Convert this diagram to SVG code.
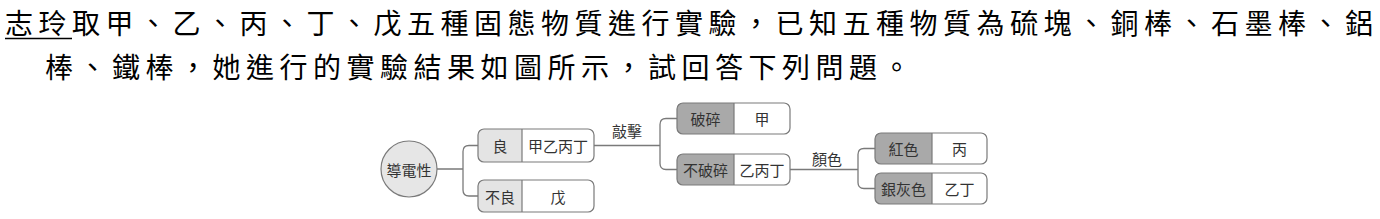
<svg xmlns="http://www.w3.org/2000/svg" width="1380" height="219" viewBox="0 0 1380 219">
<style>
.title{font-family:"Noto Sans CJK TC","Noto Sans CJK SC",sans-serif;font-size:28px;letter-spacing:5.5px;fill:#000}
.t{font-family:"Noto Sans CJK TC","Noto Sans CJK SC",sans-serif;font-size:15px;fill:#333;text-anchor:middle;dominant-baseline:central}
.box{fill:none;stroke:#7a7a7a;stroke-width:1.2}
.light{fill:#e4e4e4}
.dark{fill:#a9a9a9}
.div{stroke:#7a7a7a;stroke-width:1.2}
.conn{fill:none;stroke:#7a7a7a;stroke-width:1.3}
</style>
<rect width="1380" height="219" fill="#fff"/>
<g id="question">
<text class="title" x="5" y="33.5">志玲取甲、乙、丙、丁、戊五種固態物質進行實驗，已知五種物質為硫塊、銅棒、石墨棒、鋁</text>
<line x1="5" y1="38.5" x2="72" y2="38.5" stroke="#000" stroke-width="1.6"/>
<text class="title" x="45" y="78">棒、鐵棒，她進行的實驗結果如圖所示，試回答下列問題。</text>
</g>
<g id="connectors">
<path class="conn" d="M437,169 H463 M478,145.5 H469 Q463,145.5 463,151.5 V190 Q463,196 469,196 H478"/>
<path class="conn" d="M594,145.5 H660 M677,118.5 H666 Q660,118.5 660,124.5 V163.5 Q660,169.5 666,169.5 H677"/>
<path class="conn" d="M790,169.5 H858 M875,148.5 H864 Q858,148.5 858,154.5 V182.5 Q858,188.5 864,188.5 H875"/>
<text class="t" x="627" y="130">敲擊</text>
<text class="t" x="827" y="158">顏色</text>
</g>
<g id="n-conductivity">
<circle cx="409" cy="169" r="28" fill="#e6e6e6" stroke="#7a7a7a" stroke-width="1.2"/>
<text class="t" x="409" y="169">導電性</text>
</g>
<g id="n-good">
<rect x="478" y="129" width="116" height="33" rx="6" fill="#fff"/>
<path class="light" d="M484,129 H522 V162 H484 Q478,162 478,156 V135 Q478,129 484,129 Z"/>
<rect class="box" x="478" y="129" width="116" height="33" rx="6"/>
<line class="div" x1="522" y1="129" x2="522" y2="162"/>
<text class="t" x="500" y="145.5">良</text>
<text class="t" x="558" y="145.5">甲乙丙丁</text>
</g>
<g id="n-poor">
<rect x="478" y="180" width="116" height="32" rx="6" fill="#fff"/>
<path class="light" d="M484,180 H522 V212 H484 Q478,212 478,206 V186 Q478,180 484,180 Z"/>
<rect class="box" x="478" y="180" width="116" height="32" rx="6"/>
<line class="div" x1="522" y1="180" x2="522" y2="212"/>
<text class="t" x="500" y="196">不良</text>
<text class="t" x="558" y="196">戊</text>
</g>
<g id="n-broken">
<rect x="677" y="103" width="113" height="31" rx="6" fill="#fff"/>
<path class="dark" d="M683,103 H734 V134 H683 Q677,134 677,128 V109 Q677,103 683,103 Z"/>
<rect class="box" x="677" y="103" width="113" height="31" rx="6"/>
<line class="div" x1="734" y1="103" x2="734" y2="134"/>
<text class="t" x="705.5" y="118.5">破碎</text>
<text class="t" x="762" y="118.5">甲</text>
</g>
<g id="n-unbroken">
<rect x="677" y="154" width="113" height="31" rx="6" fill="#fff"/>
<path class="dark" d="M683,154 H734 V185 H683 Q677,185 677,179 V160 Q677,154 683,154 Z"/>
<rect class="box" x="677" y="154" width="113" height="31" rx="6"/>
<line class="div" x1="734" y1="154" x2="734" y2="185"/>
<text class="t" x="705.5" y="169.5">不破碎</text>
<text class="t" x="762" y="169.5">乙丙丁</text>
</g>
<g id="n-red">
<rect x="875" y="133" width="112" height="31" rx="6" fill="#fff"/>
<path class="dark" d="M881,133 H932 V164 H881 Q875,164 875,158 V139 Q875,133 881,133 Z"/>
<rect class="box" x="875" y="133" width="112" height="31" rx="6"/>
<line class="div" x1="932" y1="133" x2="932" y2="164"/>
<text class="t" x="903.5" y="148.5">紅色</text>
<text class="t" x="959.5" y="148.5">丙</text>
</g>
<g id="n-silver">
<rect x="875" y="173" width="112" height="31" rx="6" fill="#fff"/>
<path class="dark" d="M881,173 H932 V204 H881 Q875,204 875,198 V179 Q875,173 881,173 Z"/>
<rect class="box" x="875" y="173" width="112" height="31" rx="6"/>
<line class="div" x1="932" y1="173" x2="932" y2="204"/>
<text class="t" x="903.5" y="188.5">銀灰色</text>
<text class="t" x="959.5" y="188.5">乙丁</text>
</g>
</svg>
